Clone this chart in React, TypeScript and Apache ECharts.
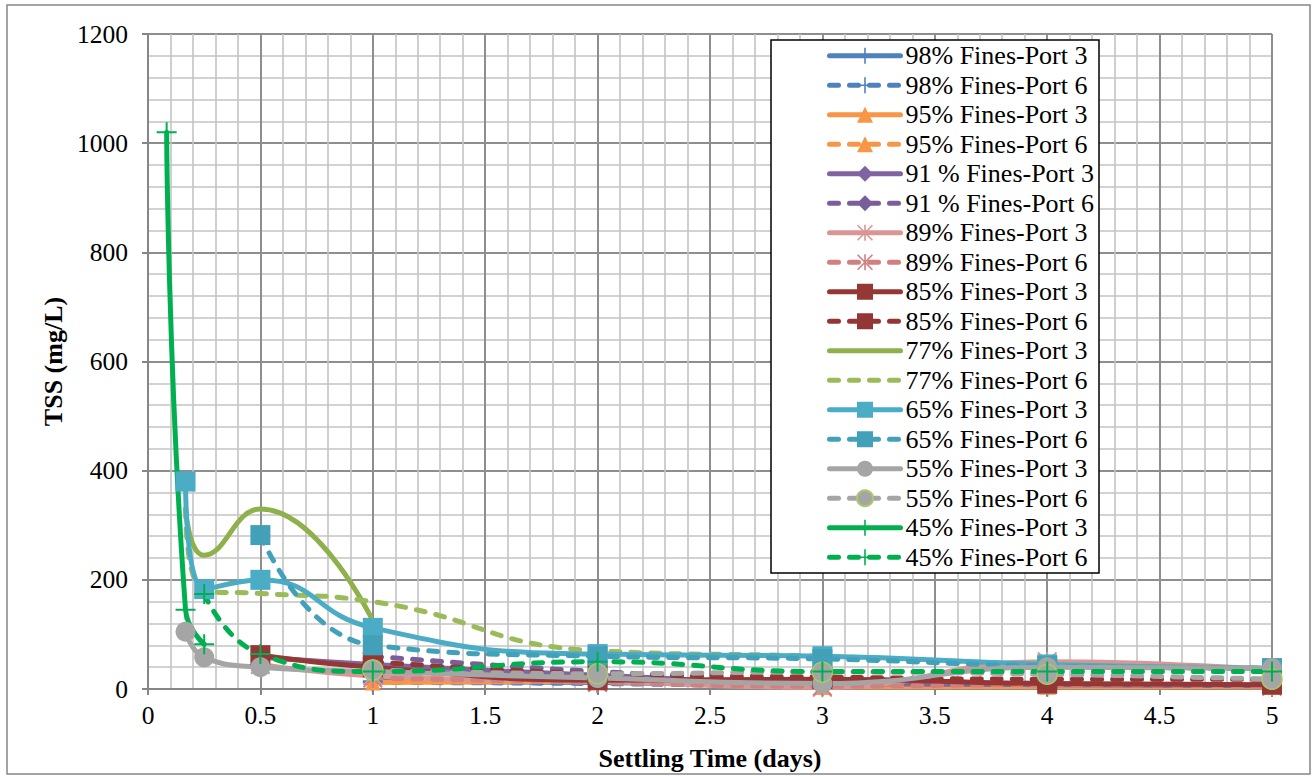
import React, { useEffect, useRef } from "react";
import * as echarts from "echarts";

// Settling times (days) at which samples were taken
const TIMES = [0.083, 0.167, 0.25, 0.5, 1, 2, 3, 4, 5];

// TSS (mg/L) per sample set; null = no sample at that time
const F98_P3 = [null, null, null, null, 14, 12, 6, 5, 4];
const F98_P6 = [null, null, null, null, 12, 10, 5, 4, 4];
const F95_P3 = [null, null, null, null, 12, 14, 4, 4, 4];
const F95_P6 = [null, null, null, null, 22, 18, 4, 5, 4];
const F91_P3 = [null, null, null, 58, 45, 25, 10, 8, 6];
const F91_P6 = [null, null, null, null, 60, 32, 15, 10, 8];
const F89_P3 = [null, null, null, 45, 24, 14, 3, 50, 35];
const F89_P6 = [null, null, null, null, 20, 12, 5, 8, 5];
const F85_P3 = [null, null, null, 62, 40, 16, 18, 10, 8];
const F85_P6 = [null, null, null, null, 50, 28, 22, 18, 18];
const F77_P3 = [null, 330, 245, 330, 125, null, null, null, null];
const F77_P6 = [null, 330, 180, 175, 160, 70, 60, 45, 38];
const F65_P3 = [null, 380, 183, 200, 112, 64, 60, 45, 38];
const F65_P6 = [null, null, null, 282, 80, 60, 55, 42, 38];
const F55_P3 = [null, 105, 58, 40, 32, 20, 10, 40, 38];
const F55_P6 = [null, null, null, null, 35, 28, 31, 27, 18];
const F45_P3 = [1020, 145, 82, null, null, null, null, null, null];
const F45_P6 = [null, null, 174, 64, 32, 50, 32, 32, 32];

const SERIES_NAMES = [
  "98% Fines-Port 3", "98% Fines-Port 6",
  "95% Fines-Port 3", "95% Fines-Port 6",
  "91 % Fines-Port 3", "91 % Fines-Port 6",
  "89% Fines-Port 3", "89% Fines-Port 6",
  "85% Fines-Port 3", "85% Fines-Port 6",
  "77% Fines-Port 3", "77% Fines-Port 6",
  "65% Fines-Port 3", "65% Fines-Port 6",
  "55% Fines-Port 3", "55% Fines-Port 6",
  "45% Fines-Port 3", "45% Fines-Port 6",
];
const SERIES_VALUES = [
  F98_P3, F98_P6, F95_P3, F95_P6, F91_P3, F91_P6, F89_P3, F89_P6,
  F85_P3, F85_P6, F77_P3, F77_P6, F65_P3, F65_P6, F55_P3, F55_P6,
  F45_P3, F45_P6,
];

const X_MIN = 0, X_MAX = 5, X_STEP = 0.5;
const Y_MIN = 0, Y_MAX = 1200, Y_STEP = 200;

const FONT = "Liberation Serif";

// thin marker glyphs
const PLUS = "path://M9,0H11V9H20V11H11V20H9V11H0V9H9Z";
const STAR =
  "path://M9,0H11V20H9Z M1.4,0L20,18.6L18.6,20L0,1.4Z M18.6,0L20,1.4L1.4,20L0,18.6Z";

type Style = {
  color: string;
  dashed: boolean;
  symbol: string;
  size: number;
  border?: string;
};

const STYLES: Style[] = [
  { color: "#4F81BD", dashed: false, symbol: PLUS, size: 20 },
  { color: "#4F81BD", dashed: true, symbol: PLUS, size: 20 },
  { color: "#F79646", dashed: false, symbol: "triangle", size: 16 },
  { color: "#F79646", dashed: true, symbol: "triangle", size: 16 },
  { color: "#8064A2", dashed: false, symbol: "diamond", size: 18 },
  { color: "#7A5E9C", dashed: true, symbol: "diamond", size: 18 },
  { color: "#DA9694", dashed: false, symbol: STAR, size: 20 },
  { color: "#D0807E", dashed: true, symbol: STAR, size: 20 },
  { color: "#953735", dashed: false, symbol: "rect", size: 20 },
  { color: "#943634", dashed: true, symbol: "rect", size: 20 },
  { color: "#8FB14B", dashed: false, symbol: "none", size: 0 },
  { color: "#9BBB59", dashed: true, symbol: "none", size: 0 },
  { color: "#4BACC6", dashed: false, symbol: "rect", size: 20 },
  { color: "#43A0B9", dashed: true, symbol: "rect", size: 20 },
  { color: "#A5A5A5", dashed: false, symbol: "circle", size: 20 },
  { color: "#A5A5A5", dashed: true, symbol: "circle", size: 20, border: "#A9C96B" },
  { color: "#00B050", dashed: false, symbol: PLUS, size: 20 },
  { color: "#00B050", dashed: true, symbol: PLUS, size: 20 },
];

const LINE_WIDTH = 5;

function toPoints(values: (number | null)[]) {
  const pts: [number, number][] = [];
  values.forEach((v, i) => {
    if (v !== null) pts.push([TIMES[i], v]);
  });
  return pts;
}

export default function App() {
  const ref = useRef<HTMLDivElement>(null);

  useEffect(() => {
    if (!ref.current) return;
    const chart = echarts.init(ref.current, undefined, { renderer: "svg" });

    const series = SERIES_NAMES.map((name, i) => {
      const s = STYLES[i];
      return {
        name,
        type: "line",
        data: toPoints(SERIES_VALUES[i]),
        smooth: 0.5,
        color: s.color,
        symbol: s.symbol,
        symbolSize: s.size,
        showSymbol: s.symbol !== "none",
        lineStyle: {
          color: s.color,
          width: LINE_WIDTH,
          type: s.dashed ? [9, 11] : "solid",
          cap: "round",
        },
        itemStyle: {
          color: s.color,
          borderColor: s.border ?? s.color,
          borderWidth: s.border ? 1.5 : 0,
        },
        emphasis: { disabled: true },
      };
    });

    const legendData = SERIES_NAMES.map((name, i) =>
      STYLES[i].symbol === "none"
        ? { name, itemStyle: { color: "rgba(0,0,0,0)", borderColor: "rgba(0,0,0,0)", opacity: 0 } }
        : { name }
    );

    const axisCommon = {
      axisLine: { show: true, onZero: false, lineStyle: { color: "#868686", width: 2 } },
      axisTick: { show: true, length: 6, lineStyle: { color: "#868686", width: 2 } },
      splitLine: { show: true, lineStyle: { color: "#8E8E8E", width: 2 } },
      minorTick: { show: false, splitNumber: 5 },
      minorSplitLine: { show: true, lineStyle: { color: "#C3C3C3", width: 1.6 } },
      nameTextStyle: { fontFamily: FONT, fontSize: 26, fontWeight: "bold", color: "#000" },
    };

    chart.setOption({
      animation: false,
      backgroundColor: "#ffffff",
      textStyle: { fontFamily: FONT },
      graphic: [
        {
          type: "rect",
          shape: { x: 7, y: 5, width: 1303, height: 769 },
          style: { fill: "none", stroke: "#868686", lineWidth: 1.5 },
          silent: true,
          z: 100,
        },
      ],
      grid: { left: 148, right: 40, top: 34, bottom: 86, containLabel: false },
      xAxis: {
        type: "value",
        min: X_MIN,
        max: X_MAX,
        interval: X_STEP,
        name: "Settling Time (days)",
        nameLocation: "middle",
        nameGap: 56,
        ...axisCommon,
        axisLabel: {
          fontFamily: FONT, fontSize: 25.5, color: "#000", margin: 13,
          formatter: (v: number) => String(v),
        },
      },
      yAxis: {
        type: "value",
        min: Y_MIN,
        max: Y_MAX,
        interval: Y_STEP,
        name: "TSS (mg/L)",
        nameLocation: "middle",
        nameGap: 82,
        nameRotate: 90,
        ...axisCommon,
        axisLabel: {
          fontFamily: FONT, fontSize: 25.5, color: "#000", margin: 20,
          formatter: (v: number) => String(v),
        },
      },
      legend: {
        show: true,
        orient: "vertical",
        left: 771,
        top: 40,
        padding: [1, 5, 1, 56],
        itemGap: 0,
        itemWidth: 71,
        itemHeight: 20,
        backgroundColor: "#ffffff",
        borderColor: "#000000",
        borderWidth: 1.5,
        borderRadius: 0,
        selectedMode: false,
        lineStyle: { width: LINE_WIDTH },
        textStyle: {
          fontFamily: FONT,
          fontSize: 26,
          color: "#000",
          lineHeight: 29.5,
          padding: [0, 0, 0, 0],
        },
        data: legendData,
      },
      series,
    });

    return () => chart.dispose();
  }, []);

  return (
    <div
      ref={ref}
      style={{ position: "fixed", left: 0, top: 0, width: 1312, height: 776 }}
    />
  );
}
